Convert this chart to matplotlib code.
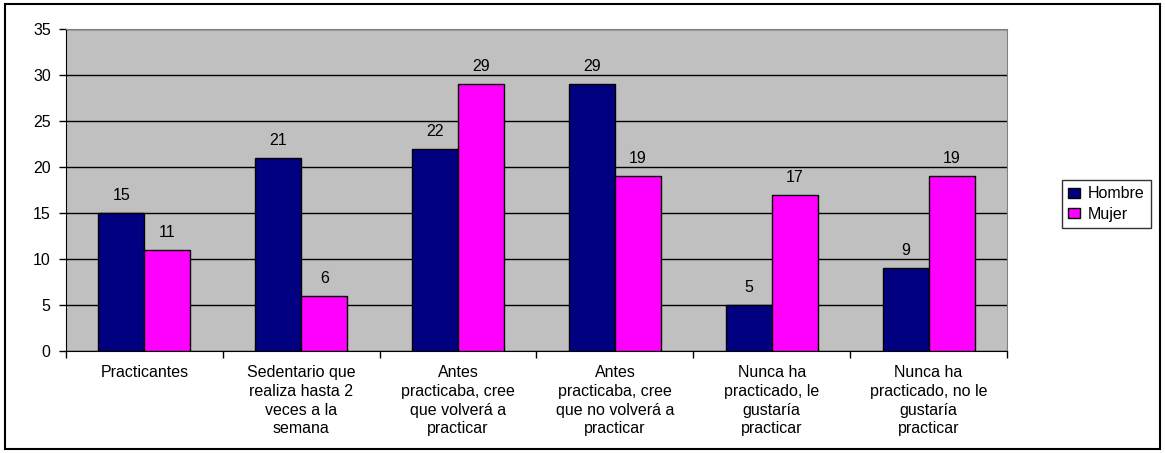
import numpy as np
import matplotlib
matplotlib.use("Agg")
from matplotlib import pyplot as plt
from matplotlib.patches import Rectangle

plt.rcParams['font.family'] = ['Liberation Sans', 'DejaVu Sans']

# data
categorias = ['Practicantes',
              'Sedentario que\nrealiza hasta 2\nveces a la\nsemana',
              'Antes\npracticaba, cree\nque volverá a\npracticar',
              'Antes\npracticaba, cree\nque no volverá a\npracticar',
              'Nunca ha\npracticado, le\ngustaría\npracticar',
              'Nunca ha\npracticado, no le\ngustaría\npracticar']
hombre = [15, 21, 22, 29, 5, 9]
mujer = [11, 6, 29, 19, 17, 19]
yticks = [0, 5, 10, 15, 20, 25, 30, 35]

fs = 11.5

fig = plt.figure(figsize=(11.65, 4.53), dpi=100)
W, H = 1165, 453
ax = fig.add_axes([66 / W, 1 - 351 / H, (1007 - 66) / W, (351 - 29) / H])
ax.set_facecolor('#C0C0C0')

x = np.arange(len(categorias))
w = 0.293
b1 = ax.bar(x - w / 2, hombre, w, color='#000080', edgecolor='black', linewidth=1, label='Hombre', zorder=3)
b2 = ax.bar(x + w / 2, mujer, w, color='#FF00FF', edgecolor='black', linewidth=1, label='Mujer', zorder=3)

# data labels
for bars in (b1, b2):
    for r in bars:
        ax.annotate(str(int(r.get_height())), (r.get_x() + r.get_width() / 2, r.get_height()),
                    xytext=(0, 7), textcoords='offset points', ha='center', va='bottom', fontsize=fs)

ax.set_xlim(-0.5, len(categorias) - 0.5)
ax.set_ylim(0, 35)
ax.set_yticks(yticks)
ax.yaxis.grid(True, color='black', linewidth=1, zorder=1)
ax.set_axisbelow(True)
ax.tick_params(axis='y', direction='out', length=5, width=1, labelsize=fs, pad=6)

# category labels centered, ticks between categories
ax.set_xticks(x)
ax.set_xticklabels(categorias, fontsize=fs, linespacing=1.32)
ax.tick_params(axis='x', length=0, pad=10)
ax.set_xticks(np.arange(len(categorias) + 1) - 0.5, minor=True)
ax.tick_params(axis='x', which='minor', direction='out', length=5, width=1)

for s in ('top', 'right'):
    ax.spines[s].set_color('#808080')
ax.spines['left'].set_color('black')
ax.spines['bottom'].set_color('black')

leg = fig.legend(loc='upper left', bbox_to_anchor=(1062 / W, 1 - 180 / H), fontsize=fs,
                 frameon=True, fancybox=False, edgecolor='black', handlelength=0.7, handleheight=0.6,
                 handletextpad=0.5, borderpad=0.4, labelspacing=0.35, borderaxespad=0)
leg.get_frame().set_linewidth(1)

# outer frame
fig.patches.append(Rectangle((5 / W, 4 / H), (1160 - 5) / W, (449 - 4) / H, transform=fig.transFigure,
                             fill=False, edgecolor='black', linewidth=1.5))

fig.savefig('out.png', dpi=100)
